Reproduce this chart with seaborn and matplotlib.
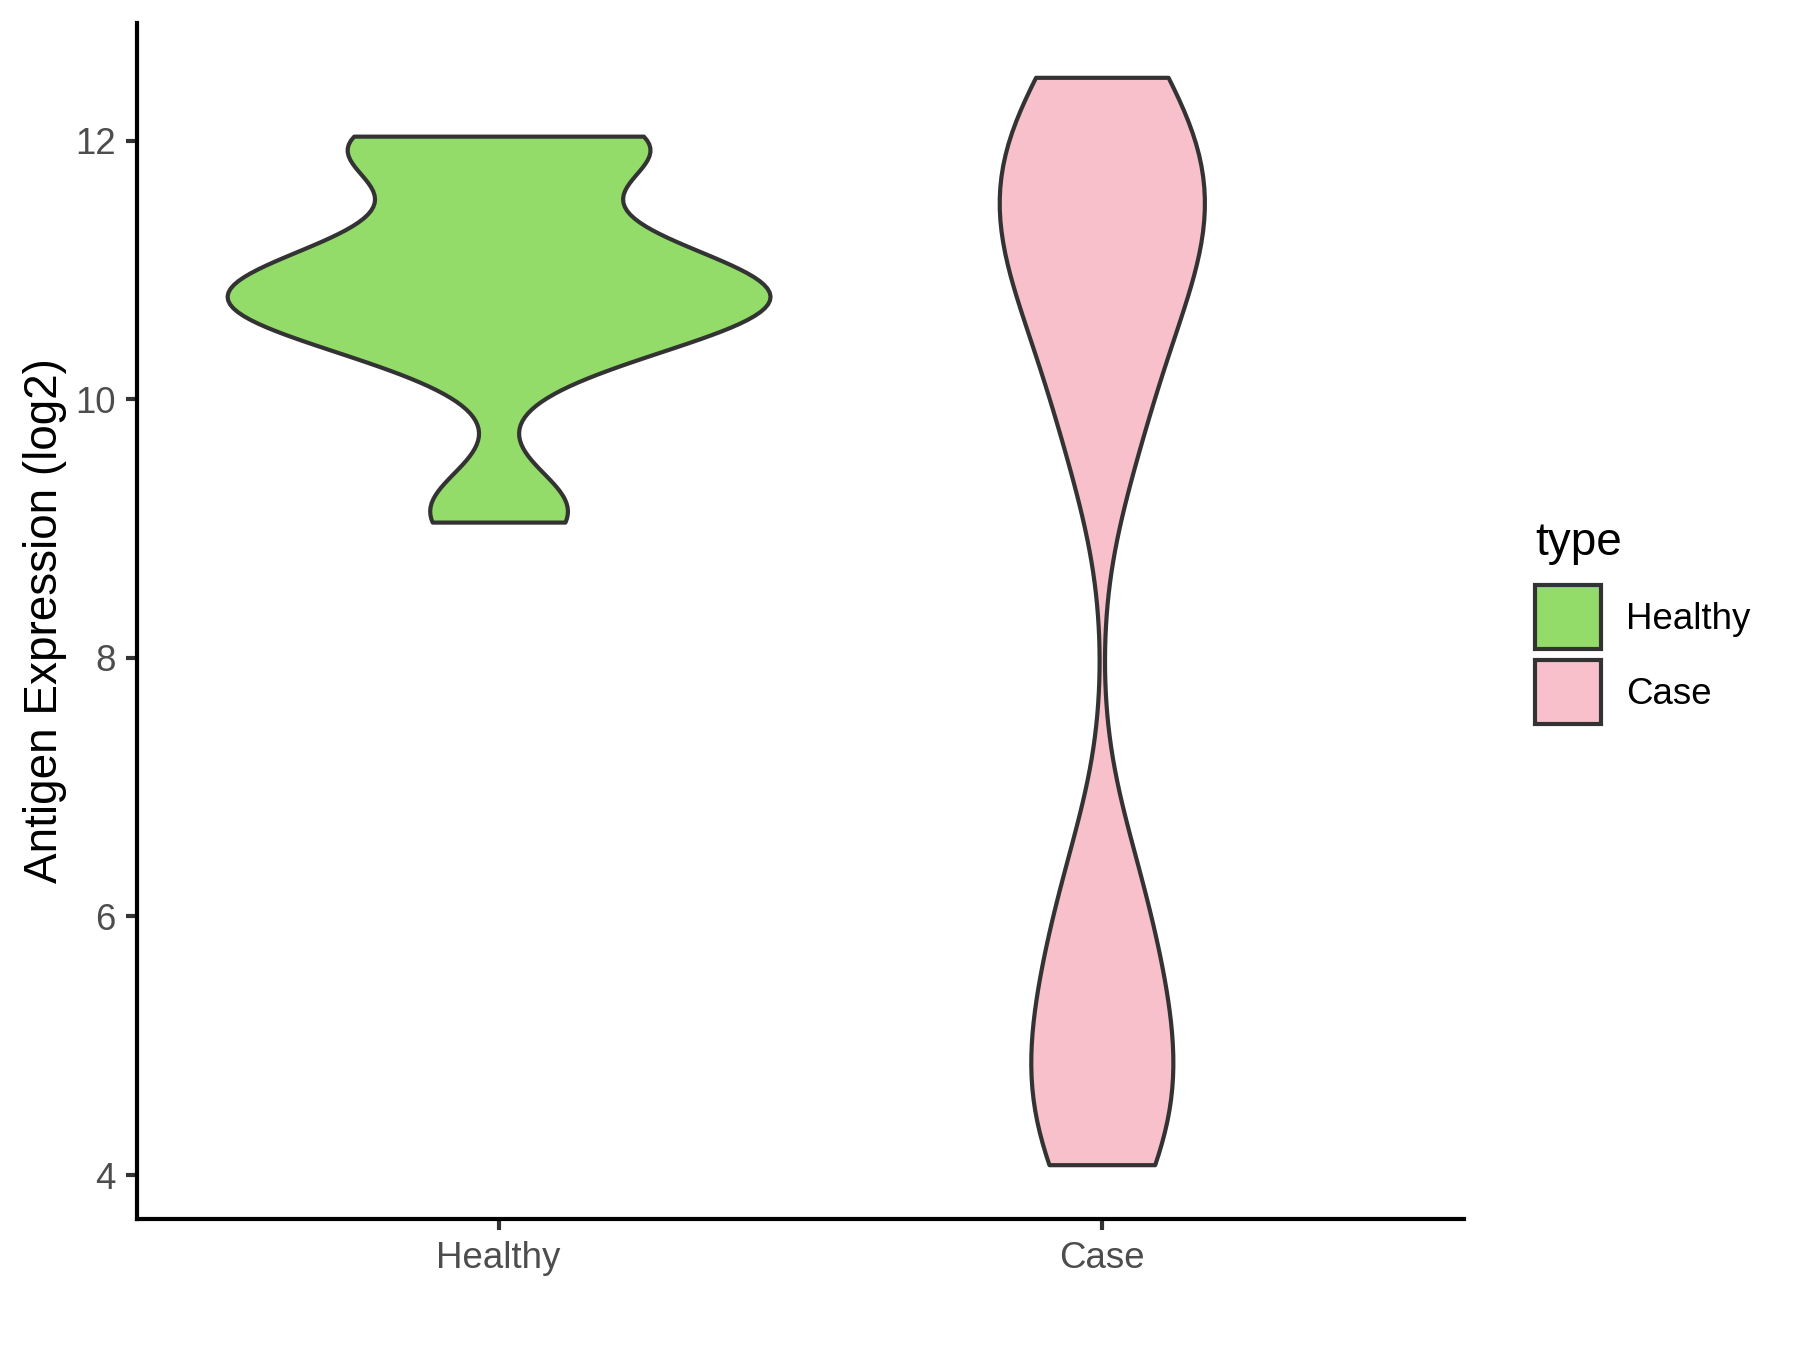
import numpy as np
import pandas as pd
import seaborn as sns
import matplotlib
import matplotlib.pyplot as plt
from matplotlib.patches import Patch
matplotlib.use('Agg')

# groups and their colours
types = ["Healthy", "Case"]
colors = ["#93DC6A", "#F7C0CB"]

# expression values (log2)
healthy = [9.05, 9.22, 10.3, 10.45, 10.6, 10.7, 10.75, 10.8, 10.85, 10.95,
           11.05, 11.2, 11.45, 11.9, 11.95, 12.035, 12.035]
case = [4.08, 4.4, 4.8, 5.2, 5.7, 6.35, 9.6, 10.3, 10.8, 11.1,
        11.4, 11.6, 11.9, 12.2, 12.49]

# kernel bandwidth per group (log2 units)
bandwidths = [0.3, 0.7]
# violin width per group (area scaling between the two groups)
widths = [0.9, 0.34]

df = pd.DataFrame({
    "type": ["Healthy"] * len(healthy) + ["Case"] * len(case),
    "expr": healthy + case,
})

plt.rcParams['font.family'] = ['Liberation Sans', 'DejaVu Sans']

fig = plt.figure(figsize=(6, 4.5), dpi=300)
ax = fig.add_axes([0.0759, 0.097, 0.8132 - 0.0759, 0.983 - 0.097])

for t, c, bw, w in zip(types, colors, bandwidths, widths):
    sub = df[df["type"] == t]
    sns.violinplot(data=sub, x="type", y="expr", order=types, color=c,
                   saturation=1, cut=0, inner=None,
                   bw_method=bw / np.std(sub["expr"], ddof=1),
                   density_norm="area", width=w,
                   linecolor="#333333", linewidth=1.0, ax=ax)

# ggplot-like limits: 5% padding on y, 0.6 on discrete x
lo, hi = df["expr"].min(), df["expr"].max()
pad = 0.05 * (hi - lo)
ax.set_ylim(lo - pad, hi + pad)
ax.set_xlim(-0.6, len(types) - 0.4)
ax.set_yticks([4, 6, 8, 10, 12])

ax.set_xlabel("")
ax.set_ylabel("Antigen Expression (log2)", fontsize=11, color="black", labelpad=2.1)

for s in ["top", "right"]:
    ax.spines[s].set_visible(False)
for s in ["left", "bottom"]:
    ax.spines[s].set_linewidth(1.0)
    ax.spines[s].set_color("black")
ax.tick_params(axis="both", length=2.75, width=1.0, color="#333333",
               labelcolor="#4D4D4D", labelsize=8.8, pad=2.2)
ax.tick_params(axis="x", pad=2.6)
ax.grid(False)

handles = [Patch(facecolor=c, edgecolor="#333333", linewidth=1.0) for c in colors]
leg = fig.legend(handles, types, loc="center left", bbox_to_anchor=(0.853, 0.539),
                 frameon=False, title="type", title_fontsize=11, fontsize=8.8,
                 handlelength=1.78, handleheight=2.3, labelspacing=0.3,
                 handletextpad=0.7, alignment="left", borderaxespad=0, borderpad=0)
leg._legend_box.sep = 5

fig.savefig("out.png", dpi=300)
